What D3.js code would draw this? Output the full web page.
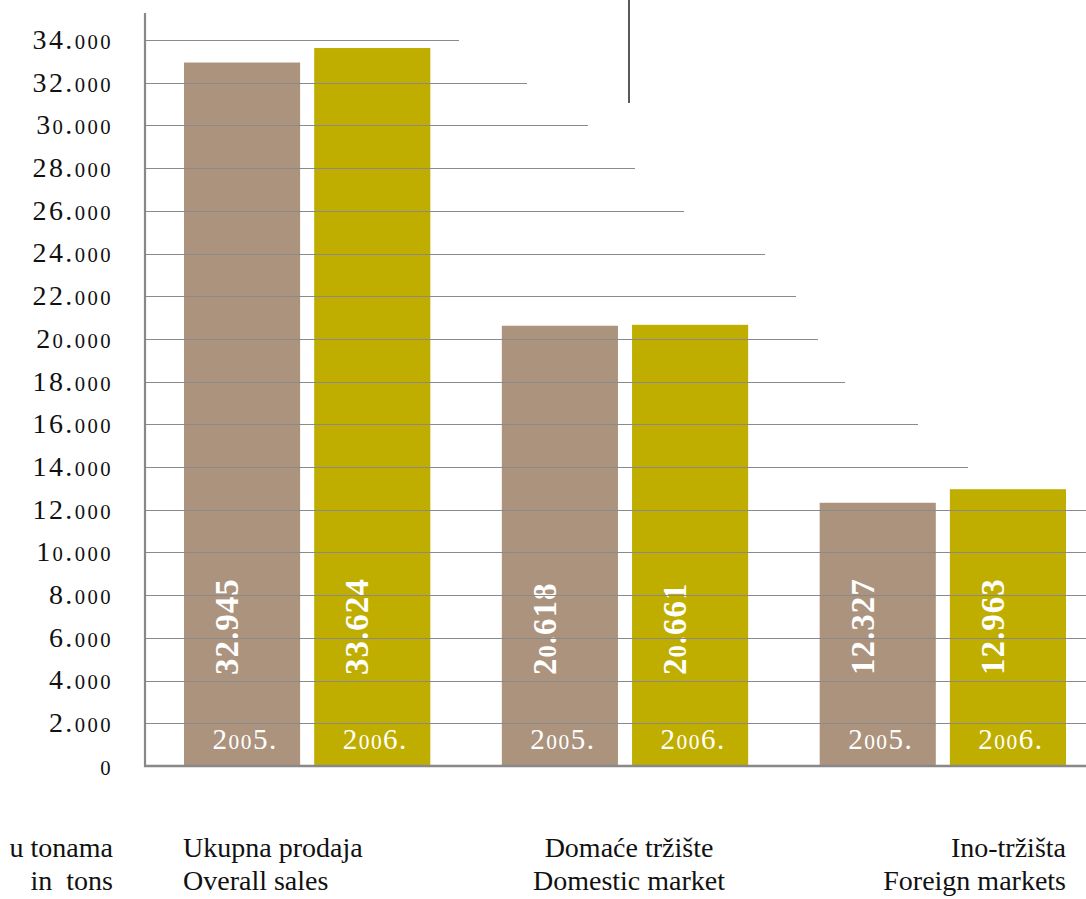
<!DOCTYPE html>
<html>
<head>
<meta charset="utf-8">
<script src="https://cdn.jsdelivr.net/npm/d3@7"></script>
<style>
  body { margin: 0; background: #fff; }
  svg, svg text { font-family: "Liberation Serif", "DejaVu Serif", serif; }
</style>
</head>
<body>
<div id="chart"></div>
<script>
const groups = ["Ukupna prodaja", "Domaće tržište", "Ino-tržišta"];
const groupsEn = ["Overall sales", "Domestic market", "Foreign markets"];
const years = ["2005.", "2006."];
const sales2005 = [32945, 20618, 12327];
const sales2006 = [33624, 20661, 12963];
const tickValues = [0, 2000, 4000, 6000, 8000, 10000, 12000, 14000, 16000,
    18000, 20000, 22000, 24000, 26000, 28000, 30000, 32000, 34000];
const unitLabels = ["u tonama", "in  tons"];

// where each gridline stops on the right (stepped look of the original)
const gridEnd = {34000: 459, 32000: 527, 30000: 588, 28000: 635, 26000: 684,
    24000: 765, 22000: 796, 20000: 818, 18000: 845, 16000: 918, 14000: 968};

const width = 1086, height = 899;
const colors = {"2005.": "#ab937e", "2006.": "#bfae00"};

const svg = d3.select("#chart").append("svg")
    .attr("width", width)
    .attr("height", height);

const y = d3.scaleLinear().domain([0, 34000]).range([766, 40]);

const x0 = d3.scaleBand().domain(groups).range([184, 1066]).paddingInner(0.225);
const x1 = d3.scaleBand().domain(years).range([0, x0.bandwidth()]).paddingInner(0.108);

const locale = d3.formatLocale({decimal: ",", thousands: ".", grouping: [3], currency: ["", ""]});
const fmt = locale.format(",d");

// zeros drawn smaller, like the old-style figures of the original
function digits(sel, str) {
    for (const ch of str) {
        const t = sel.append("tspan").text(ch);
        if (ch === "0") t.attr("font-size", "0.74em");
    }
}

const rows = groups.map((g, i) => ({group: g, values: [
    {year: years[0], value: sales2005[i]},
    {year: years[1], value: sales2006[i]}
]}));

// bars
const gBars = svg.append("g");
const gRow = gBars.selectAll("g").data(rows).join("g")
    .attr("transform", d => `translate(${x0(d.group)},0)`);

gRow.selectAll("rect").data(d => d.values).join("rect")
    .attr("x", d => x1(d.year))
    .attr("y", d => y(d.value))
    .attr("width", x1.bandwidth())
    .attr("height", d => y(0) - y(d.value))
    .attr("fill", d => colors[d.year]);

// gridlines on top of the bars
svg.append("g").selectAll("line")
    .data(tickValues.filter(v => v > 0))
    .join("line")
    .attr("x1", 145)
    .attr("x2", d => gridEnd[d] || width)
    .attr("y1", d => Math.round(y(d)) + 0.5)
    .attr("y2", d => Math.round(y(d)) + 0.5)
    .attr("stroke", "#8a8a8a")
    .attr("stroke-width", 1.2);

// value labels (rotated) and year labels
gRow.selectAll("text.val").data(d => d.values).join("text")
    .attr("class", "val")
    .attr("transform", d => `translate(${x1(d.year) + x1.bandwidth() / 2 - 4},675) rotate(-90)`)
    .attr("fill", "#fff")
    .attr("font-weight", "bold")
    .attr("font-size", 33)
    .attr("letter-spacing", 1)
    .each(function(d) { digits(d3.select(this), fmt(d.value)); });

gRow.selectAll("text.yr").data(d => d.values).join("text")
    .attr("class", "yr")
    .attr("x", d => x1(d.year) + x1.bandwidth() / 2 + 3)
    .attr("y", 749)
    .attr("text-anchor", "middle")
    .attr("fill", "#fff")
    .attr("font-size", 29)
    .attr("letter-spacing", 1.5)
    .each(function(d) { digits(d3.select(this), d.year); });

// axes
const yAxis = svg.append("g").attr("transform", "translate(145,0)")
    .call(d3.axisLeft(y).tickValues(tickValues).tickSize(0).tickFormat(""));
yAxis.attr("font-family", null);
yAxis.select(".domain").remove();
yAxis.selectAll(".tick text").remove();
yAxis.selectAll(".tick").append("text")
    .attr("x", -32)
    .attr("dy", "0.3em")
    .attr("text-anchor", "end")
    .attr("fill", "#111")
    .attr("font-size", 28)
    .attr("letter-spacing", 2.4)
    .each(function(d) { digits(d3.select(this), fmt(d)); });

svg.append("line")
    .attr("x1", 145).attr("x2", 145)
    .attr("y1", 13).attr("y2", 767)
    .attr("stroke", "#888").attr("stroke-width", 2.2);

svg.append("line")
    .attr("x1", 144).attr("x2", width)
    .attr("y1", 766).attr("y2", 766)
    .attr("stroke", "#888").attr("stroke-width", 2.6);

// short vertical rule at the top
const ruleX = 629;
svg.append("line")
    .attr("x1", ruleX).attr("x2", ruleX)
    .attr("y1", 0).attr("y2", 103)
    .attr("stroke", "#222").attr("stroke-width", 1.5);

// bottom labels
const labelFont = 28;
const unit = svg.append("g").attr("font-size", labelFont).attr("fill", "#111");
unitLabels.forEach((t, i) => {
    unit.append("text").attr("x", 113).attr("y", 857 + i * 33)
        .attr("text-anchor", "end").style("white-space", "pre").text(t);
});

const anchors = ["start", "middle", "end"];
const anchorX = [183, ruleX, 1066];
groups.forEach((g, i) => {
    [g, groupsEn[i]].forEach((t, j) => {
        svg.append("text")
            .attr("x", anchorX[i])
            .attr("y", 857 + j * 33)
            .attr("text-anchor", anchors[i])
            .attr("font-size", labelFont)
            .attr("fill", "#111")
            .text(t);
    });
});
</script>
</body>
</html>
